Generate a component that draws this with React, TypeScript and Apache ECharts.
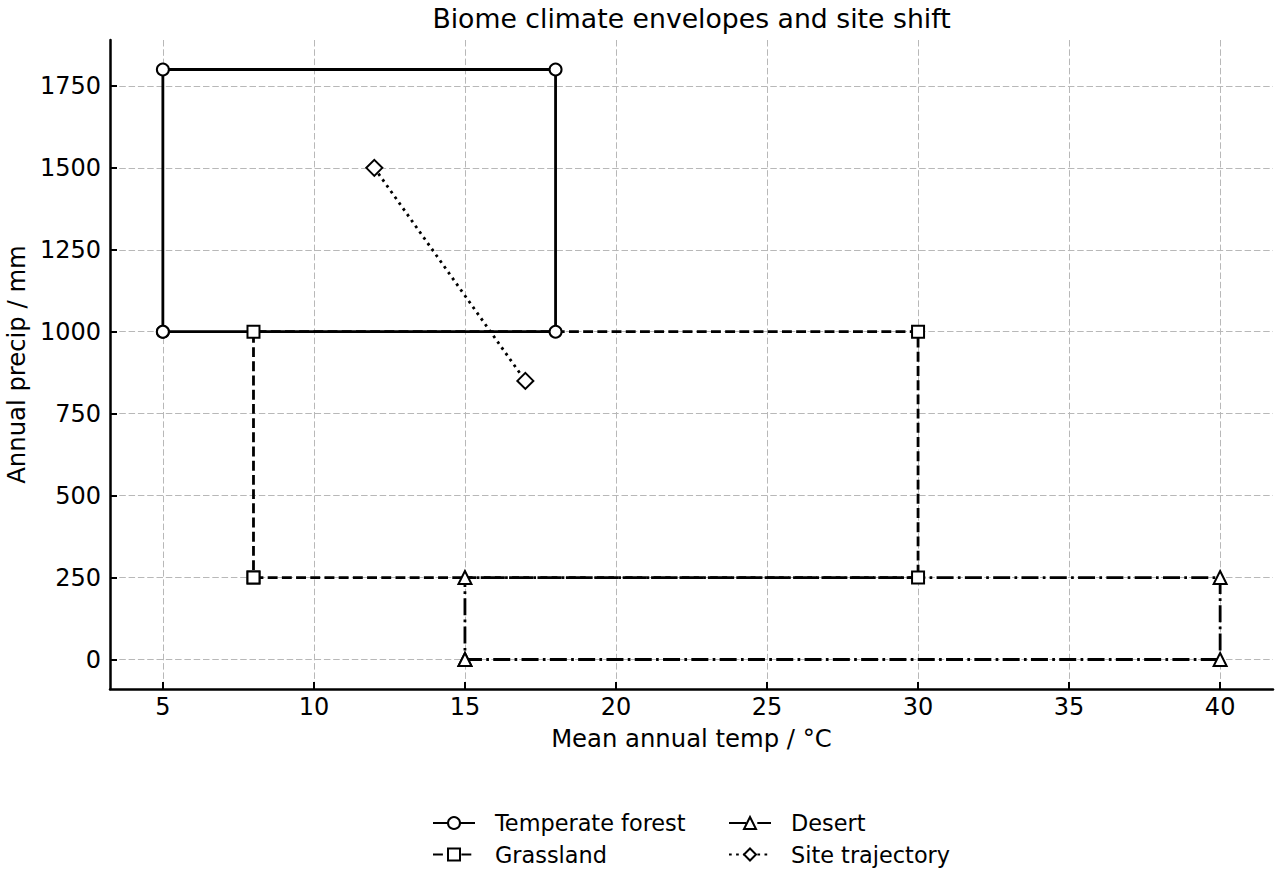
import React, { useEffect, useRef } from "react";
import * as echarts from "echarts";

const TITLE = "Biome climate envelopes and site shift";
const X_NAME = "Mean annual temp / °C";
const Y_NAME = "Annual precip / mm";

const xTicks = [5, 10, 15, 20, 25, 30, 35, 40];
const yTicks = [0, 250, 500, 750, 1000, 1250, 1500, 1750];

const forestTemp = [5, 18, 18, 5, 5];
const forestPrecip = [1000, 1000, 1800, 1800, 1000];
const grassTemp = [8, 30, 30, 8, 8];
const grassPrecip = [250, 250, 1000, 1000, 250];
const desertTemp = [15, 40, 40, 15, 15];
const desertPrecip = [0, 0, 250, 250, 0];
const siteTemp = [12, 17];
const sitePrecip = [1500, 850];

const NAMES = ["Temperate forest", "Grassland", "Desert", "Site trajectory"];

const FONT = "DejaVu Sans";
const LW = 2.8;

function pad(vals: number[]) {
  const lo = Math.min(...vals);
  const hi = Math.max(...vals);
  const m = (hi - lo) * 0.05;
  return [lo - m, hi + m];
}

export default function App() {
  const ref = useRef<HTMLDivElement>(null);
  useEffect(() => {
    document.body.style.margin = "0";
    if (!ref.current) return;
    const chart = echarts.init(ref.current, undefined, { renderer: "svg" });
    const allX = [...forestTemp, ...grassTemp, ...desertTemp, ...siteTemp];
    const allY = [...forestPrecip, ...grassPrecip, ...desertPrecip, ...sitePrecip];
    const [xMin, xMax] = pad(allX);
    const [yMin, yMax] = pad(allY);

    const mk = (name: string, xs: number[], ys: number[], symbol: string, size: number, dash: any) => ({
      name,
      type: "line",
      data: xs.map((x, i) => [x, ys[i]]),
      symbol,
      symbolSize: size,
      showSymbol: true,
      showAllSymbol: true,
      clip: false,
      lineStyle: { color: "#000", width: LW, type: dash, cap: "butt" },
      itemStyle: { color: "#fff", borderColor: "#000", borderWidth: 2 },
      emphasis: { disabled: true },
    });

    const legendCommon = {
      orient: "vertical",
      padding: 0,
      itemWidth: 42,
      itemHeight: 15,
      itemGap: 9.5,
      selectedMode: false,
      textStyle: { fontFamily: FONT, fontSize: 22.4, color: "#000", padding: [0, 0, 0, 15] },
    };

    chart.setOption({
      animation: false,
      backgroundColor: "#fff",
      title: {
        text: TITLE,
        left: 686.5,
        top: 0,
        textAlign: "center",
        textStyle: { fontFamily: FONT, fontSize: 26.7, fontWeight: "normal", color: "#000" },
      },
      grid: { left: 110, right: 7, top: 40, bottom: 191, containLabel: false, outerBoundsMode: "none" },
      xAxis: {
        type: "value",
        min: xMin,
        max: xMax,
        name: X_NAME,
        nameLocation: "middle",
        nameGap: 37,
        nameTextStyle: { fontFamily: FONT, fontSize: 24.3, color: "#000" },
        axisLine: { show: true, onZero: false, lineStyle: { color: "#000", width: 2.5 } },
        axisTick: { show: true, inside: true, length: 7, customValues: xTicks, lineStyle: { color: "#000", width: 2 } },
        axisLabel: {
          customValues: xTicks,
          margin: 6,
          fontFamily: FONT,
          fontSize: 24,
          color: "#000",
          formatter: (v: number) => String(v),
        },
        splitLine: { show: true, lineStyle: { color: "#b8b8b8", width: 1, type: [6.5, 2.8] } },
      },
      yAxis: {
        type: "value",
        min: yMin,
        max: yMax,
        name: Y_NAME,
        nameLocation: "middle",
        nameGap: 82,
        nameTextStyle: { fontFamily: FONT, fontSize: 24.3, color: "#000" },
        axisLine: { show: true, onZero: false, lineStyle: { color: "#000", width: 2.5 } },
        axisTick: { show: true, inside: true, length: 7, customValues: yTicks, lineStyle: { color: "#000", width: 2 } },
        axisLabel: {
          customValues: yTicks,
          margin: 9,
          fontFamily: FONT,
          fontSize: 24,
          color: "#000",
          formatter: (v: number) => String(v),
        },
        splitLine: { show: true, lineStyle: { color: "#b8b8b8", width: 1, type: [6.5, 2.8] } },
      },
      legend: [
        { ...legendCommon, data: [NAMES[0], NAMES[1]], left: 432, top: 812 },
        { ...legendCommon, data: [NAMES[2], NAMES[3]], left: 728, top: 812 },
      ],
      series: [
        mk(NAMES[0], forestTemp, forestPrecip, "circle", 12, "solid"),
        mk(NAMES[1], grassTemp, grassPrecip, "rect", 12, [9.9, 4.3]),
        mk(NAMES[2], desertTemp, desertPrecip, "triangle", 13, [17, 4.3, 2.7, 4.3]),
        mk(NAMES[3], siteTemp, sitePrecip, "diamond", 16, [2.7, 4.4]),
      ],
    });
    return () => chart.dispose();
  }, []);
  return <div ref={ref} style={{ width: 1280, height: 880 }} />;
}
